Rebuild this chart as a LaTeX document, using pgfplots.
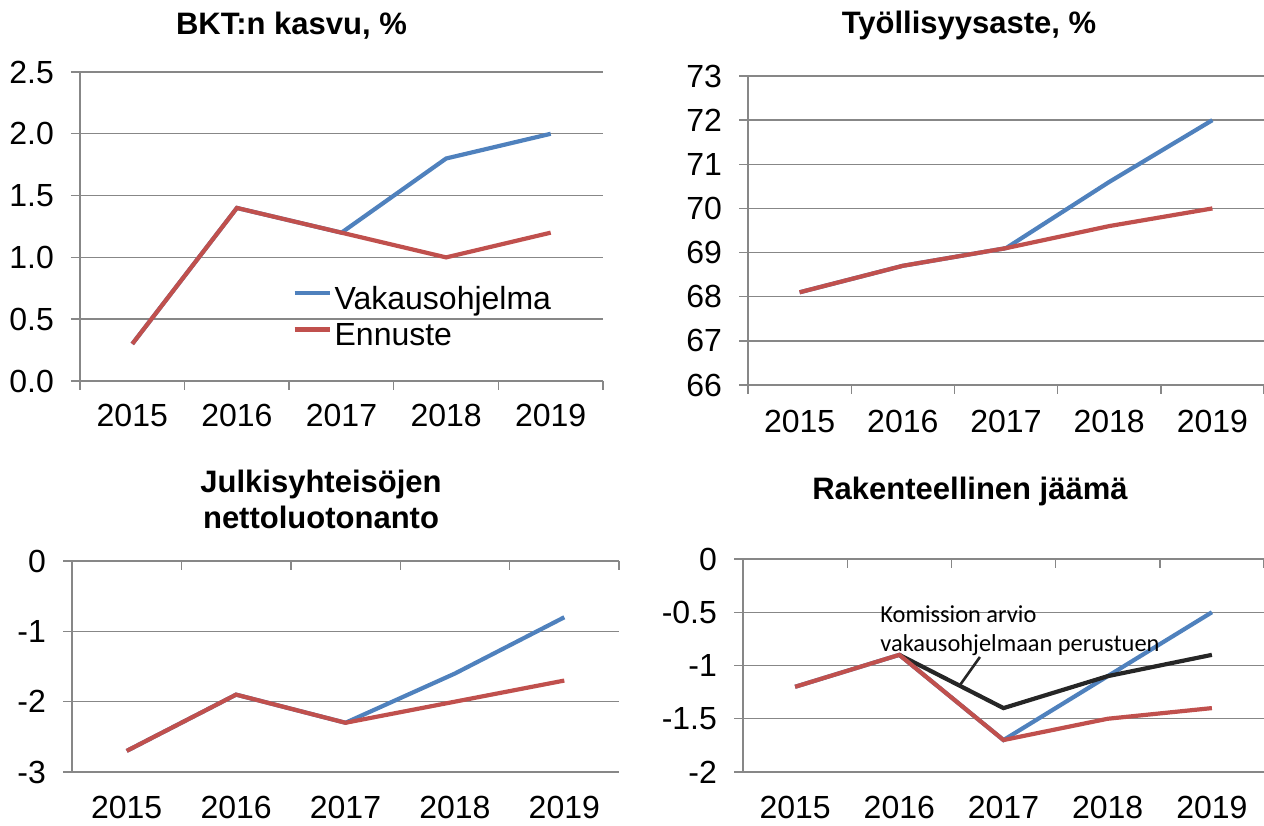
\documentclass[border=0pt]{standalone}
\usepackage{fontspec}
\setmainfont{Liberation Sans}
\newfontfamily\calib{Carlito}
\usepackage{pgfplots}
\pgfplotsset{compat=1.18}
\definecolor{vblue}{HTML}{4F81BD}
\definecolor{ered}{HTML}{C0504D}
\definecolor{gridc}{HTML}{878787}
\definecolor{kblack}{HTML}{262626}
\pgfplotsset{
  base/.style={
    scale only axis,
    anchor=south west,
    xmin=0.5, xmax=5.5,
    xtick={0.5,1.5,2.5,3.5,4.5,5.5},
    xticklabels={2015,2016,2017,2018,2019,{}},
    major tick length=4.5pt,
    tick align=outside,
    ymajorgrids,
    grid style={gridc, line width=0.7pt},
    tick style={gridc, line width=0.7pt},
    axis line style={gridc, line width=0.7pt},
    tick label style={font=\fontsize{16}{19}\selectfont, text=black},
    yticklabel style={xshift=-5pt},
    /pgf/number format/assume math mode=true,
    clip=false,
  },
  ser/.style={line width=2.1pt},
}
\begin{document}
\begin{tikzpicture}
\useasboundingbox (0,0) rectangle (632pt,412.5pt);
% Panel 1
\begin{axis}[base, at={(40pt,222pt)}, width=261.5pt, height=154.5pt,
  axis x line*=bottom, axis y line*=left,
  ymin=0, ymax=2.5, ytick={0,0.5,1,1.5,2,2.5},
  yticklabel style={/pgf/number format/.cd, fixed, fixed zerofill, precision=1},
  xticklabel style={xshift=26.15pt, yshift=-3.5pt},
  legend style={at={(axis cs:2.527,0.73)}, anchor=north west, draw=none, fill=none,
    font=\fontsize{16}{19}\selectfont, inner sep=0pt, column sep=1.5pt, row sep=6.8pt,
    nodes={inner sep=0pt, text height=0.75em, text depth=0.2em}},
  legend cell align=left,
  legend image code/.code={\draw[#1] (0pt,5.5pt) -- (17.5pt,5.5pt);},
]
\addplot[ser, vblue] coordinates {(1,0.3) (2,1.4) (3,1.2) (4,1.8) (5,2.0)};
\addlegendentry{Vakausohjelma}
\addplot[ser, ered] coordinates {(1,0.3) (2,1.4) (3,1.2) (4,1.0) (5,1.2)};
\addlegendentry{Ennuste}
\end{axis}
% Panel 2
\begin{axis}[base, at={(374pt,220pt)}, width=258pt, height=154.5pt,
  axis x line*=bottom, axis y line*=left,
  ymin=66, ymax=73, ytick={66,67,...,73},
  xticklabel style={xshift=25.8pt, yshift=-4.5pt},
]
\addplot[ser, vblue] coordinates {(1,68.1) (2,68.7) (3,69.1) (4,70.6) (5,72.0)};
\addplot[ser, ered] coordinates {(1,68.1) (2,68.7) (3,69.1) (4,69.6) (5,70.0)};
\end{axis}
% Panel 3
\begin{axis}[base, at={(36pt,26.5pt)}, width=273.5pt, height=105.5pt,
  axis x line*=bottom, axis y line*=left, x axis line style={draw=none}, xtick style={draw=none},
  ymin=-3, ymax=0, ytick={-3,-2,-1,0},
  xticklabel style={xshift=27.35pt, yshift=-4pt},
]
\addplot[ser, vblue] coordinates {(1,-2.7) (2,-1.9) (3,-2.3) (4,-1.6) (5,-0.8)};
\addplot[ser, ered] coordinates {(1,-2.7) (2,-1.9) (3,-2.3) (4,-2.0) (5,-1.7)};
\end{axis}
\begin{axis}[scale only axis, anchor=south west, at={(36pt,26.5pt)}, width=273.5pt, height=105.5pt,
  xmin=0.5, xmax=5.5, ymin=-3, ymax=0, axis x line*=top, axis y line=none,
  xtick={0.5,1.5,2.5,3.5,4.5,5.5}, xticklabels={}, tick align=inside, major tick length=4.5pt,
  tick style={gridc, line width=0.7pt}, axis line style={gridc, line width=0.7pt}]
\end{axis}
% Panel 4
\begin{axis}[base, at={(371.5pt,26.5pt)}, width=260.5pt, height=106.5pt,
  axis x line*=bottom, axis y line*=left, x axis line style={draw=none}, xtick style={draw=none},
  ymin=-2, ymax=0, ytick={-2,-1.5,-1,-0.5,0},
  xticklabel style={xshift=26.05pt, yshift=-4pt},
]
\addplot[ser, vblue] coordinates {(1,-1.2) (2,-0.9) (3,-1.7) (4,-1.1) (5,-0.5)};
\addplot[ser, kblack] coordinates {(2,-0.9) (3,-1.4) (4,-1.1) (5,-0.9)};
\addplot[ser, ered] coordinates {(1,-1.2) (2,-0.9) (3,-1.7) (4,-1.5) (5,-1.4)};
\draw[kblack, line width=1.3pt] (axis cs:2.774,-0.92) -- (axis cs:2.583,-1.183);
\node[anchor=base west, inner sep=0pt, font=\calib\fontsize{12.2}{14}\selectfont] at (axis cs:1.815,-0.592) {Komission arvio};
\node[anchor=base west, inner sep=0pt, font=\calib\fontsize{12.2}{14}\selectfont] at (axis cs:1.815,-0.864) {vakausohjelmaan perustuen};
\end{axis}
\begin{axis}[scale only axis, anchor=south west, at={(371.5pt,26.5pt)}, width=260.5pt, height=106.5pt,
  xmin=0.5, xmax=5.5, ymin=-2, ymax=0, axis x line*=top, axis y line=none,
  xtick={0.5,1.5,2.5,3.5,4.5,5.5}, xticklabels={}, tick align=inside, major tick length=4.5pt,
  tick style={gridc, line width=0.7pt}, axis line style={gridc, line width=0.7pt}]
\end{axis}
% Titles
\begin{scope}[every node/.style={anchor=base, inner sep=0pt, font=\bfseries\fontsize{15.5}{18}\selectfont}]
\node at (145.75pt,395pt) {BKT:n kasvu, \%};
\node at (484.5pt,395.5pt) {Työllisyysaste, \%};
\node at (160.5pt,166pt) {Julkisyhteisöjen};
\node at (160.5pt,148pt) {nettoluotonanto};
\node at (485pt,162.5pt) {Rakenteellinen jäämä};
\end{scope}
\end{tikzpicture}
\end{document}
